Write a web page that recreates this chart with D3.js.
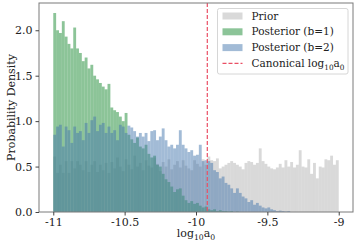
<!DOCTYPE html>
<html>
<head>
<meta charset="utf-8">
<script src="https://cdn.jsdelivr.net/npm/d3@7"></script>
<style>
  body { margin: 0; background: #fff; }
  svg { display: block; font-family: "DejaVu Serif", serif; }
</style>
</head>
<body>
<script>
// histogram range of log10 a0, 100 bins
const binRange = [-11, -9];

const prior = [
  0.61, 0.43, 0.52, 0.43, 0.56, 0.43, 0.56, 0.48, 0.56, 0.52,
  0.46, 0.56, 0.44, 0.52, 0.56, 0.44, 0.52, 0.46, 0.54, 0.43,
  0.55, 0.48, 0.60, 0.50, 0.45, 0.58, 0.52, 0.47, 0.62, 0.50,
  0.54, 0.46, 0.57, 0.51, 0.49, 0.60, 0.53, 0.45, 0.55, 0.50,
  0.58, 0.47, 0.52, 0.56, 0.49, 0.57, 0.51, 0.48, 0.46, 0.57,
  0.53, 0.50, 0.58, 0.52, 0.61, 0.57, 0.56, 0.59, 0.48, 0.50,
  0.52, 0.54, 0.56, 0.54, 0.52, 0.50, 0.47, 0.54, 0.56, 0.55,
  0.52, 0.54, 0.70, 0.56, 0.53, 0.50, 0.48, 0.47, 0.49, 0.53,
  0.49, 0.57, 0.50, 0.55, 0.49, 0.52, 0.68, 0.50, 0.49, 0.58,
  0.42, 0.54, 0.37, 0.50, 0.49, 0.58, 0.57, 0.62, 0.52, 0.57
];

const postB1 = [
  2.19, 2.00, 1.97, 2.10, 1.93, 1.85, 1.80, 2.03, 1.80, 1.75,
  1.66, 1.70, 1.58, 1.62, 1.50, 1.46, 1.42, 1.38, 1.35, 1.41,
  1.15, 1.12, 1.10, 1.05, 1.00, 1.09, 0.85, 0.80, 0.76, 0.82,
  0.72, 0.70, 0.74, 0.64, 0.60, 0.62, 0.52, 0.50, 0.42, 0.36,
  0.33, 0.28, 0.22, 0.25, 0.26, 0.18, 0.13, 0.10, 0.12, 0.09,
  0.10, 0.07, 0.05, 0.06, 0.03, 0.02, 0.03, 0.01, 0.02, 0.01,
  0.01, 0.005, 0.01, 0, 0.005, 0, 0, 0, 0, 0,
  0, 0, 0, 0, 0, 0, 0, 0, 0, 0,
  0, 0, 0, 0, 0, 0, 0, 0, 0, 0,
  0, 0, 0, 0, 0, 0, 0, 0, 0, 0
];

const postB2 = [
  0.85, 0.94, 0.96, 0.72, 0.94, 0.90, 0.76, 0.94, 0.87, 0.89,
  0.79, 0.98, 0.87, 1.01, 1.05, 0.89, 0.96, 0.98, 0.87, 0.94,
  0.87, 0.90, 0.79, 0.96, 0.94, 0.87, 0.95, 0.93, 0.89, 0.83,
  0.87, 0.83, 0.87, 0.78, 0.89, 0.90, 0.79, 0.83, 0.92, 0.79,
  0.72, 0.74, 0.70, 0.74, 0.90, 0.74, 0.70, 0.66, 0.68, 0.62,
  0.63, 0.74, 0.56, 0.57, 0.56, 0.54, 0.46, 0.44, 0.37, 0.39,
  0.32, 0.30, 0.26, 0.21, 0.26, 0.21, 0.17, 0.15, 0.11, 0.13,
  0.08, 0.10, 0.07, 0.05, 0.04, 0.05, 0.03, 0.02, 0.01, 0.015,
  0.01, 0.005, 0.01, 0, 0, 0, 0, 0, 0, 0,
  0, 0, 0, 0, 0, 0, 0, 0, 0, 0
];

const canonical = Math.log10(1.2e-10);

const xTicks = [-11, -10.5, -10, -9.5, -9];
const yTicks = [0, 0.5, 1.0, 1.5, 2.0];

const series = [
  {label: "Prior", values: prior, color: "#808080", alpha: 0.3},
  {label: "Posterior (b=1)", values: postB1, color: "#3f9d53", alpha: 0.6},
  {label: "Posterior (b=2)", values: postB2, color: "#4577ad", alpha: 0.5}
];

const refColor = "#ea4f65";

const width = 357, height = 244;
const margin = {left: 39, right: 4, top: 3, bottom: 32};

const svg = d3.select("body").append("svg")
    .attr("width", width)
    .attr("height", height);

const x = d3.scaleLinear()
    .domain([-11.1, -8.9])
    .range([margin.left, width - margin.right]);

const y = d3.scaleLinear()
    .domain([0, 2.3])
    .range([height - margin.bottom, margin.top]);

const nBins = prior.length;
const step = (binRange[1] - binRange[0]) / nBins;

// bars, one layer per series
series.forEach(s => {
  svg.append("g")
      .attr("fill", s.color)
      .attr("fill-opacity", s.alpha)
    .selectAll("rect")
    .data(s.values)
    .join("rect")
      .attr("x", (d, i) => x(binRange[0] + i * step))
      .attr("width", (d, i) => x(binRange[0] + (i + 1) * step) - x(binRange[0] + i * step))
      .attr("y", d => y(d))
      .attr("height", d => y(0) - y(d));
});

// canonical value
svg.append("line")
    .attr("x1", x(canonical)).attr("x2", x(canonical))
    .attr("y1", y.range()[1]).attr("y2", y.range()[0])
    .attr("stroke", refColor)
    .attr("stroke-width", 1.2)
    .attr("stroke-dasharray", "4,2");

// frame
svg.append("rect")
    .attr("x", x.range()[0]).attr("y", y.range()[1])
    .attr("width", x.range()[1] - x.range()[0])
    .attr("height", y.range()[0] - y.range()[1])
    .attr("fill", "none")
    .attr("stroke", "#7a7a7a")
    .attr("stroke-width", 1);

const fmtX = d => String(d);
const xAxis = g => g
    .attr("transform", `translate(0,${y(0)})`)
    .call(d3.axisBottom(x).tickValues(xTicks).tickFormat(fmtX).tickSizeOuter(0).tickSize(3.5).tickPadding(3))
    .call(g => g.select(".domain").remove());

const yAxis = g => g
    .attr("transform", `translate(${x.range()[0]},0)`)
    .call(d3.axisLeft(y).tickValues(yTicks).tickFormat(d3.format(".1f")).tickSizeOuter(0).tickSize(3.5).tickPadding(3))
    .call(g => g.select(".domain").remove());

svg.append("g").call(xAxis);
svg.append("g").call(yAxis);

svg.selectAll(".tick line").attr("stroke", "#444");
svg.selectAll(".tick text")
    .attr("fill", "#222")
    .style("font-family", "'DejaVu Serif', serif")
    .style("font-size", "11px");

// axis labels
const xl = svg.append("text")
    .attr("x", (x.range()[0] + x.range()[1]) / 2)
    .attr("y", 237)
    .attr("text-anchor", "middle")
    .attr("fill", "#222")
    .style("font-size", "11px");
xl.append("tspan").text("log");
xl.append("tspan").attr("dy", 2.5).style("font-size", "7.7px").text("10");
xl.append("tspan").attr("dy", -2.5).text("a");
xl.append("tspan").attr("dy", 2.5).style("font-size", "7.7px").text("0");

svg.append("text")
    .attr("transform", `translate(15,${(y.range()[0] + y.range()[1]) / 2}) rotate(-90)`)
    .attr("text-anchor", "middle")
    .attr("fill", "#222")
    .style("font-size", "11px")
    .text("Probability Density");

// legend
const legend = svg.append("g").attr("transform", "translate(217.5,8.5)");
legend.append("rect")
    .attr("width", 130.5).attr("height", 65.5)
    .attr("rx", 2)
    .attr("fill", "#fff").attr("fill-opacity", 0.8)
    .attr("stroke", "#d6d6d6");

const rowY = i => 7.5 + i * 15.8;

series.forEach((s, i) => {
  legend.append("rect")
      .attr("x", 5).attr("y", rowY(i) - 3.5)
      .attr("width", 20).attr("height", 7)
      .attr("fill", s.color).attr("fill-opacity", s.alpha);
  legend.append("text")
      .attr("x", 34).attr("y", rowY(i)).attr("dy", "0.35em")
      .attr("fill", "#222")
      .style("font-size", "10.5px")
      .text(s.label);
});

legend.append("line")
    .attr("x1", 5).attr("x2", 25)
    .attr("y1", rowY(3)).attr("y2", rowY(3))
    .attr("stroke", refColor)
    .attr("stroke-width", 1.2)
    .attr("stroke-dasharray", "4,2");

const lt = legend.append("text")
    .attr("x", 34).attr("y", rowY(3)).attr("dy", "0.35em")
    .attr("fill", "#222")
    .style("font-size", "10.5px");
lt.append("tspan").text("Canonical log");
lt.append("tspan").attr("dy", 2.5).style("font-size", "7.3px").text("10");
lt.append("tspan").attr("dy", -2.5).text("a");
lt.append("tspan").attr("dy", 2.5).style("font-size", "7.3px").text("0");
</script>
</body>
</html>
